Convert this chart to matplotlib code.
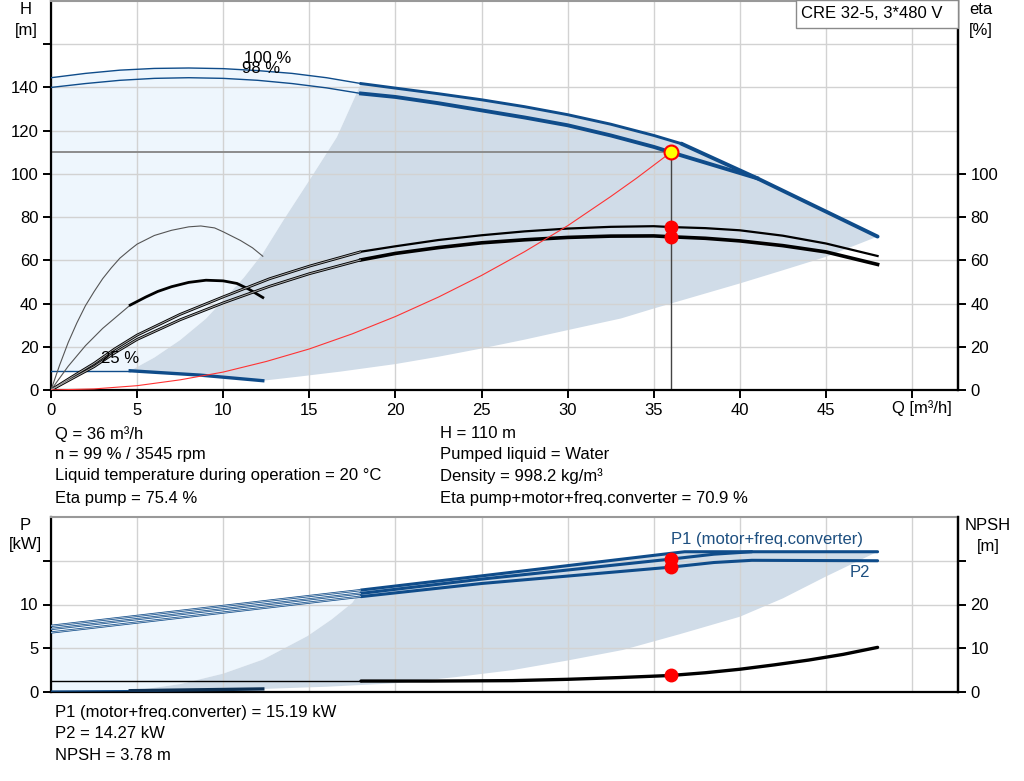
import numpy as np
import matplotlib
matplotlib.use('Agg')
import matplotlib.pyplot as plt
from matplotlib.patches import Rectangle

plt.rcParams['font.family'] = ['Liberation Sans', 'DejaVu Sans']
plt.rcParams['font.size'] = 12

BLUE = '#0f4c8a'
LIGHT = '#eef6fd'
DARK = '#d0dce8'

# ---- head curves (Q m3/h, H m) ----
q100 = [0, 2, 4, 6, 8, 10, 12, 14, 16, 18, 20, 22.5, 25, 27.5, 30, 32.5, 35, 36.6]
h100 = [144.5, 146.5, 148, 148.8, 149, 148.7, 147.8, 146.5, 144.5, 141.8, 139.7, 137.1,
        134.3, 131.1, 127.4, 123, 117.8, 114]
q98 = [0, 2, 4, 6, 8, 10, 12, 14, 16, 18, 20, 22.5, 25, 27.5, 30, 32.5, 35, 36, 38, 41]
h98 = [140, 141.8, 143.3, 144.2, 144.5, 144.2, 143.3, 141.8, 139.8, 137.2, 135.6, 132.7,
       129.4, 126.1, 122.5, 117.8, 112.5, 110, 105.2, 98]
q_plim = [36.6, 41, 48]          # power limited part of max curve
h_plim = [114, 98, 71]
q25 = [0, 4.6, 8.65, 12.3]
h25 = [8.9, 8.9, 6.9, 4.3]

# system curve
q_sys = [0, 2.5, 5, 7.5, 10, 12.5, 15, 17.5, 20, 22.5, 25, 27.5, 30, 32.5, 34, 36]
h_sys = [0, 0.5, 2, 4.7, 8.3, 13.2, 19, 26, 34, 43, 53, 64, 76, 89.5, 98, 110]

# ---- efficiency curves (eta %) ----
q_eta = [0, 1.2, 2.5, 3.7, 5, 7.5, 10, 12.7, 15, 18, 20, 22.5, 25, 27.5, 30, 32.5, 35, 36,
         38, 40, 42.5, 45, 48]
eta_pump = [0, 6, 12.3, 19, 25.4, 35, 43.1, 51.5, 57.3, 64, 66.5, 69.4, 71.6, 73.4, 74.7,
            75.5, 75.8, 75.4, 74.9, 73.9, 71.4, 67.8, 62]
eta_tot = [0, 5.2, 10.8, 17.2, 23.4, 32.5, 40.3, 48, 53.8, 60.2, 63.2, 65.9, 68.1, 69.5,
           70.6, 71.2, 71.3, 70.9, 70.2, 69, 66.8, 63.9, 58.1]
q_eta25p = [0, 0.5, 1, 1.5, 2, 2.5, 3, 3.5, 4, 4.6, 5, 6, 7, 8, 8.7, 9.5, 10, 11, 11.7, 12.3]
eta25_pump = [0, 11.5, 22, 31, 39, 45.5, 51.5, 56.5, 61, 65, 67.5, 71.5, 73.9, 75.5, 75.9,
              75, 73.2, 69.2, 65.8, 61.9]
q_eta25t = [0, 1, 2, 3, 4.6, 5.5, 6.2, 7, 8, 9, 10, 10.8, 11.5, 12.3]
eta25_tot = [0, 11, 20.5, 28.5, 39.3, 43, 45.6, 47.8, 49.8, 50.8, 50.5, 49.3, 46.6, 42.8]

# operating range boundaries (top chart)
q_left = [4.6, 6, 7.5, 9, 10, 11.2, 12.3, 13.5, 15, 16.6, 18.0]
h_left = [8.9, 15, 23.1, 33, 41.6, 52, 63.2, 78.6, 97, 117, 141.8]
q_low = [4.6, 8.65, 12.3, 14.5, 16.8, 20, 22.5, 25, 27.5, 30, 33.1, 35, 37.5, 40, 42.5, 45, 48]
h_low = [8.9, 6.9, 4.3, 6.3, 8.5, 12, 15.4, 19.2, 23.3, 27.7, 33.1, 37.7, 43.5, 49.3, 55.4,
         61.6, 71]

# ---- power curves (kW) ----
q_p1a = [0, 18, 25, 36, 36.8, 48]
p1_100 = [7.56, 11.65, 13.27, 15.85, 16.03, 16.03]
q_p1b = [0, 18, 25, 36, 38.5, 40.7]
p1_98 = [7.2, 11.27, 12.9, 15.19, 15.75, 16.03]
q_p2 = [0, 18, 25, 36, 38.5, 40.7, 48]
p2_98 = [6.8, 10.9, 12.4, 14.27, 14.8, 15.05, 15.0]
q_p25 = [0, 4.6, 8.5, 12.3]
p25 = [0.1, 0.15, 0.25, 0.35]
q_pleft = [4.6, 7.5, 10, 12.3, 14.9, 16.3, 17.5, 18.0]
p_left = [0.1, 0.9, 2.1, 3.7, 6.4, 8.3, 10.2, 11.65]
q_plow = [4.6, 12.3, 16, 20, 23.5, 26.8, 30, 33.2, 36.5, 40, 42.5, 45, 48]
p_low = [0.1, 0.35, 0.6, 1.0, 1.7, 2.5, 3.6, 4.8, 6.6, 8.6, 10.7, 13.2, 16.03]

# ---- NPSH (m) ----
q_npsh = [18, 22, 26.8, 30, 33, 36, 38, 40, 42, 44, 46, 48]
npsh = [2.5, 2.5, 2.6, 2.9, 3.3, 3.78, 4.4, 5.2, 6.2, 7.3, 8.6, 10.2]

# duty point
q_op, h_op = 36, 110
eta_op = [75.4, 70.9]
p_op = [15.19, 14.27]
npsh_op = 3.78

W, H = 1024, 781
fig = plt.figure(figsize=(W / 100, H / 100), dpi=100)


def px(x, y):
    return x / W, 1 - y / H


def seg(q, v, lo, hi):
    # part of a curve between lo and hi, with interpolated ends
    q = np.asarray(q, float)
    v = np.asarray(v, float)
    inner = (q > lo) & (q < hi)
    qq = np.concatenate([[lo], q[inner], [hi]])
    return qq, np.interp(qq, q, v)


def dbl(ax, x, y, col, lw, core='#a8a8a8'):
    ax.plot(x, y, color=col, lw=lw, solid_capstyle='butt', zorder=3)
    ax.plot(x, y, color=core, lw=lw * 0.35, solid_capstyle='butt', zorder=3.1)


def style(ax):
    ax.set_axisbelow(True)
    ax.grid(True, color='#d2d2d2', lw=1)
    for s in ['left', 'right', 'bottom']:
        ax.spines[s].set_linewidth(1.6)
        ax.spines[s].set_color('black')
    ax.spines['top'].set_color('#999999')
    ax.spines['top'].set_linewidth(1.5)
    ax.tick_params(direction='out', length=6, width=1.4, labelsize=12, pad=3)


XMAX = 52.67

# ================= top chart =================
ax = fig.add_axes([51 / W, 1 - 390 / H, 907 / W, 389 / H])
style(ax)
ax.set_xlim(0, XMAX)
ax.set_ylim(0, 180)
ax.set_xticks(np.arange(0, 51, 5))
ax.set_xticklabels([str(v) for v in range(0, 50, 5)] + [''])
ax.set_yticks(np.arange(0, 161, 20))
ax.set_yticklabels([str(v) for v in range(0, 141, 20)] + [''])

# light area
lq, lh = seg(q25, h25, 0, 4.6)
top_q = list(q100) + q_plim[1:]
top_h = list(h100) + h_plim[1:]
tq, th = seg(top_q, top_h, 0, 18.0)
ax.fill(np.concatenate([lq, q_left, tq[::-1]]),
        np.concatenate([lh, h_left, th[::-1]]), color=LIGHT, lw=0, zorder=0.2)
# operating range
tq2, th2 = seg(top_q, top_h, 18.0, 48)
ax.fill(np.concatenate([q_left, tq2, q_low[::-1]]),
        np.concatenate([h_left, th2, h_low[::-1]]), color=DARK, lw=0, zorder=0.3)

# duty point guide lines
ax.plot([0, q_op], [h_op, h_op], color='#8c8c8c', lw=1.4, zorder=2)
ax.plot([q_op, q_op], [0, h_op], color='#444444', lw=1, zorder=2)

# head curves
x, y = seg(q100, h100, 0, 18)
ax.plot(x, y, color=BLUE, lw=1.0, zorder=3)
x, y = seg(q100, h100, 18, 36.6)
ax.plot(x, y, color=BLUE, lw=2.1, zorder=3)
x, y = seg(q98, h98, 0, 18)
ax.plot(x, y, color=BLUE, lw=1.0, zorder=3)
x, y = seg(q98, h98, 18, 41)
ax.plot(x, y, color=BLUE, lw=2.8, zorder=3)
ax.plot(q_plim, h_plim, color=BLUE, lw=2.8, zorder=3, solid_capstyle='round')
x, y = seg(q25, h25, 0, 4.6)
ax.plot(x, y, color=BLUE, lw=1.0, zorder=3)
x, y = seg(q25, h25, 4.6, 12.3)
ax.plot(x, y, color=BLUE, lw=2.4, zorder=3)

# efficiency curves
x, y = seg(q_eta, eta_pump, 0, 18)
dbl(ax, x, y, 'black', 2.0)
x, y = seg(q_eta, eta_tot, 0, 18)
dbl(ax, x, y, 'black', 2.0)
x, y = seg(q_eta, eta_pump, 18, 48)
ax.plot(x, y, color='black', lw=1.6, zorder=3)
x, y = seg(q_eta, eta_tot, 18, 48)
ax.plot(x, y, color='black', lw=2.6, zorder=3)
ax.plot(q_eta25p, eta25_pump, color='#555555', lw=0.8, zorder=3)
x, y = seg(q_eta25t, eta25_tot, 0, 4.6)
ax.plot(x, y, color='#555555', lw=0.8, zorder=3)
x, y = seg(q_eta25t, eta25_tot, 4.6, 12.3)
ax.plot(x, y, color='black', lw=2.0, zorder=3)

# system curve
ax.plot(q_sys, h_sys, color='#ff3333', lw=0.8, zorder=3.5)

# duty point markers
ax.plot([q_op, q_op], eta_op, 'o', color='#ff0000', ms=9, mec='#ff0000', zorder=5)
ax.plot([q_op], [h_op], 'o', color='#ffff00', ms=10, mec='#ff0000', mew=1.5, zorder=6)

ax.text(12.6, 153.4, '100 %', ha='center', va='center', fontsize=12, zorder=7)
ax.text(12.2, 148.8, '98 %', ha='center', va='center', fontsize=12, zorder=7)
ax.text(4.0, 14.8, '25 %', ha='center', va='center', fontsize=12, zorder=7)

axr = ax.twinx()
axr.set_ylim(0, 180)
axr.set_yticks(np.arange(0, 101, 20))
for s in ['left', 'top', 'bottom']:
    axr.spines[s].set_visible(False)
axr.spines['right'].set_linewidth(1.6)
axr.tick_params(direction='out', length=6, width=1.4, labelsize=12, pad=3)

# ================= bottom chart =================
bx = fig.add_axes([51 / W, 1 - 692 / H, 907 / W, 175 / H])
style(bx)
bx.set_xlim(0, XMAX)
bx.set_ylim(0, 20)
bx.set_xticks(np.arange(0, 51, 5))
bx.tick_params(axis='x', length=0, labelbottom=False)
bx.set_yticks([0, 5, 10, 15])
bx.set_yticklabels(['0', '5', '10', ''])

pq, pv = seg(q_p1a, p1_100, 0, 18)
bx.fill(np.concatenate([[0, 4.6], q_pleft, pq[::-1]]),
        np.concatenate([[0, 0.0], p_left, pv[::-1]]), color=LIGHT, lw=0, zorder=0.2)
pq2, pv2 = seg(q_p1a, p1_100, 18, 48)
bx.fill(np.concatenate([q_pleft, pq2, q_plow[::-1]]),
        np.concatenate([p_left, pv2, p_low[::-1]]), color=DARK, lw=0, zorder=0.3)

for qq, pp in [(q_p1a, p1_100), (q_p1b, p1_98), (q_p2, p2_98)]:
    x, y = seg(qq, pp, 0, 18)
    dbl(bx, x, y, BLUE, 1.6, core='#c8d3de')
    x, y = seg(qq, pp, 18, qq[-1])
    bx.plot(x, y, color=BLUE, lw=2.2, zorder=3, solid_capstyle='round')
x, y = seg(q_p25, p25, 0, 4.6)
bx.plot(x, y, color=BLUE, lw=1.0, zorder=3)
x, y = seg(q_p25, p25, 4.6, 12.3)
bx.plot(x, y, color='#0d2f52', lw=2.4, zorder=3)

bx.plot([q_op, q_op], p_op, 'o', color='#ff0000', ms=9, zorder=5)
bx.text(41.6, 17.4, 'P1 (motor+freq.converter)', ha='center', va='center',
        color='#1d4f80', fontsize=12, zorder=7)
bx.text(47.0, 13.7, 'P2', ha='center', va='center', color='#1d4f80', fontsize=12, zorder=7)

br = bx.twinx()
br.set_ylim(0, 40)
br.set_yticks([0, 10, 20, 30])
br.set_yticklabels(['0', '10', '20', ''])
for s in ['left', 'top', 'bottom']:
    br.spines[s].set_visible(False)
br.spines['right'].set_linewidth(1.6)
br.tick_params(direction='out', length=6, width=1.4, labelsize=12, pad=3)
br.plot([0, 18], [npsh[0], npsh[0]], color='black', lw=1.0, zorder=3)
br.plot(q_npsh, npsh, color='black', lw=2.4, zorder=3, solid_capstyle='round')
br.plot([q_op], [npsh_op], 'o', color='#ff0000', ms=9, zorder=5)

# ================= texts =================
def ftext(x, y, s, **kw):
    fig.text(*px(x, y), s, va='center', fontsize=12, **kw)

ftext(26, 10, 'H', ha='center')
ftext(26, 30, '[m]', ha='center')
ftext(981, 10, 'eta', ha='center')
ftext(981, 30, '[%]', ha='center')
ftext(892, 408, 'Q [m³/h]', ha='left')
ftext(25, 525, 'P', ha='center')
ftext(25, 545, '[kW]', ha='center')
ftext(988, 525, 'NPSH', ha='center')
ftext(988, 546, '[m]', ha='center')

fig.patches.append(Rectangle(px(796, 28), 162 / W, 28 / H, transform=fig.transFigure,
                             fc='white', ec='#8a8a8a', lw=1, zorder=10))
fig.text(*px(872, 14), 'CRE 32-5, 3*480 V', ha='center', va='center', fontsize=12, zorder=11)

left_lines = ['Q = 36 m³/h', 'n = 99 % / 3545 rpm',
              'Liquid temperature during operation = 20 °C', 'Eta pump = 75.4 %']
right_lines = ['H = 110 m', 'Pumped liquid = Water', 'Density = 998.2 kg/m³',
               'Eta pump+motor+freq.converter = 70.9 %']
rows = [434, 455, 476, 498]
for s, yy in zip(left_lines, rows):
    ftext(55, yy, s, ha='left')
for s, yy in zip(right_lines, rows):
    ftext(440, yy, s, ha='left')
bottom_lines = ['P1 (motor+freq.converter) = 15.19 kW', 'P2 = 14.27 kW', 'NPSH = 3.78 m']
for s, yy in zip(bottom_lines, [713, 734, 756]):
    ftext(55, yy, s, ha='left')

fig.savefig('out.png', dpi=100)
